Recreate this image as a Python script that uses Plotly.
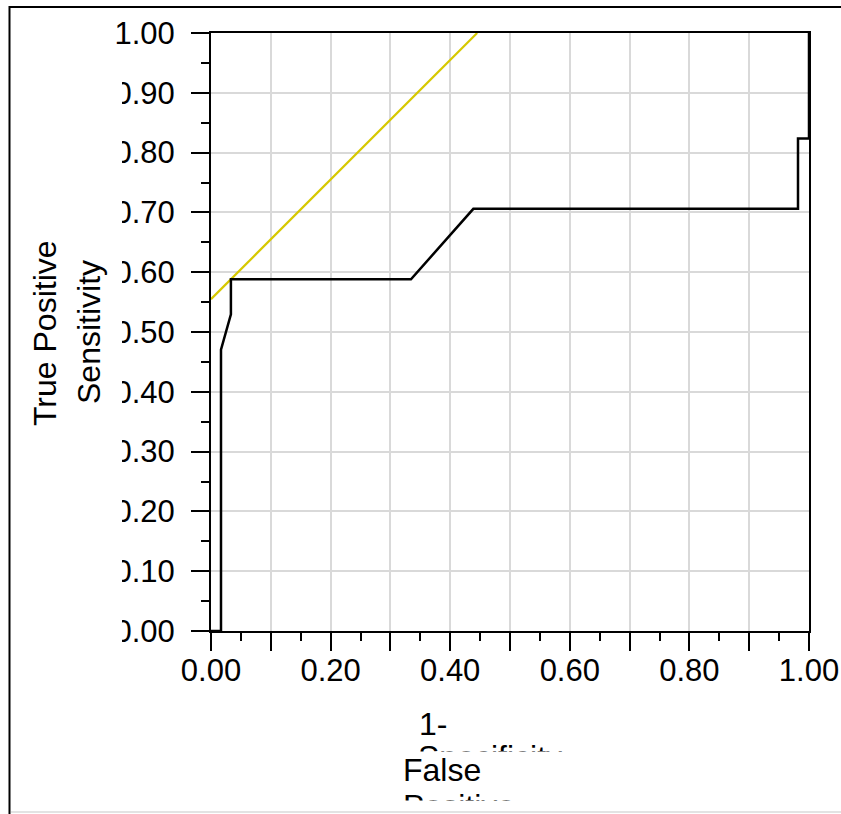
import plotly.graph_objects as go

# ---- data ----
fpr = [0.0, 0.0167, 0.0167, 0.0333, 0.0333, 0.3344, 0.4387, 0.9816, 0.9816, 1.0, 1.0]
tpr = [0.0, 0.0, 0.4706, 0.5294, 0.5882, 0.5882, 0.7059, 0.7059, 0.8235, 0.8235, 1.0]
tangent_x = [0.0, 0.4451]
tangent_y = [0.5549, 1.0]
x_tickvals = [0.0, 0.1, 0.2, 0.3, 0.4, 0.5, 0.6, 0.7, 0.8, 0.9, 1.0]
x_ticktext = ["0.00", "", "0.20", "", "0.40", "", "0.60", "", "0.80", "", "1.00"]
y_tickvals = [0.0, 0.1, 0.2, 0.3, 0.4, 0.5, 0.6, 0.7, 0.8, 0.9, 1.0]
y_ticktext = ["0.00", "0.10", "0.20", "0.30", "0.40", "0.50", "0.60", "0.70", "0.80", "0.90", "1.00"]

W, H = 841, 814
L, R, T, B = 211, 32, 33, 183
PW, PH = W - L - R, H - T - B


def px(x):
    return (x - L) / PW


def py(y):
    return (H - B - y) / PH


FONT = "Liberation Sans, Arial, sans-serif"

fig = go.Figure()
fig.add_trace(go.Scatter(x=tangent_x, y=tangent_y, mode="lines",
                         line=dict(color="#d6c800", width=2.2), hoverinfo="skip"))
fig.add_trace(go.Scatter(x=fpr, y=tpr, mode="lines",
                         line=dict(color="black", width=2.5), hoverinfo="skip"))

axis_common = dict(
    range=[0, 1], showline=True, linecolor="black", linewidth=2, mirror=True,
    ticks="outside", ticklen=18, tickwidth=2, tickcolor="black",
    showgrid=True, gridcolor="#d9d9d9", gridwidth=2, zeroline=False,
    tickfont=dict(family=FONT, size=31, color="black"),
    minor=dict(dtick=0.05, tick0=0, ticks="outside", ticklen=8, tickwidth=2,
               tickcolor="black", showgrid=False),
    fixedrange=True,
)
fig.update_xaxes(tickmode="array", tickvals=x_tickvals, ticktext=x_ticktext,
                 ticklabelstandoff=-7, **axis_common)
fig.update_yaxes(tickmode="array", tickvals=y_tickvals, ticktext=y_ticktext,
                 ticklabelstandoff=10, **axis_common)

shapes = [
    # white strip clipping the left of the y tick labels (as in the reference)
    dict(type="rect", xref="paper", yref="paper", x0=px(95), x1=px(122), y0=py(660), y1=py(52),
         fillcolor="white", line=dict(width=0), layer="above"),
    # outer frame
    dict(type="line", xref="paper", yref="paper", x0=px(9.5), x1=px(845), y0=py(7), y1=py(7),
         line=dict(color="black", width=2), layer="above"),
    dict(type="line", xref="paper", yref="paper", x0=px(9.5), x1=px(9.5), y0=py(6), y1=py(820),
         line=dict(color="black", width=2), layer="above"),
    dict(type="line", xref="paper", yref="paper", x0=px(11), x1=px(845), y0=py(812), y1=py(812),
         line=dict(color="#e3e3e3", width=2), layer="above"),
]

TF = dict(family=FONT, size=32, color="black")
OFF = 7.5  # distance from annotation box top to capital-letter top


def line_ann(text, left, cap_top, clip_bottom=None, bg=None):
    d = dict(text=text, xref="paper", yref="paper", x=px(left), y=py(cap_top - OFF),
             xanchor="left", yanchor="top", align="left", valign="top", showarrow=False,
             font=TF, borderpad=0, width=200)
    if clip_bottom is not None:
        d["height"] = clip_bottom - (cap_top - OFF)
    if bg:
        d["bgcolor"] = bg
    return d


annotations = [
    dict(text="True Positive", xref="paper", yref="paper", x=px(45), y=py(333),
         textangle=-90, showarrow=False, font=TF, xanchor="center", yanchor="middle"),
    dict(text="Sensitivity", xref="paper", yref="paper", x=px(89), y=py(332),
         textangle=-90, showarrow=False, font=TF, xanchor="center", yanchor="middle"),
    line_ann("1-", 418, 712),
    line_ann("Specificity", 417, 745, clip_bottom=753),
    line_ann("False", 402, 758, bg="white"),
    line_ann("Positive", 402, 795, clip_bottom=800),
]

fig.update_layout(
    width=W, height=H, margin=dict(l=L, r=R, t=T, b=B, autoexpand=False),
    paper_bgcolor="white", plot_bgcolor="white", showlegend=False,
    hovermode=False, shapes=shapes, annotations=annotations,
)

fig.write_html("out.html", config=dict(displayModeBar=False))
